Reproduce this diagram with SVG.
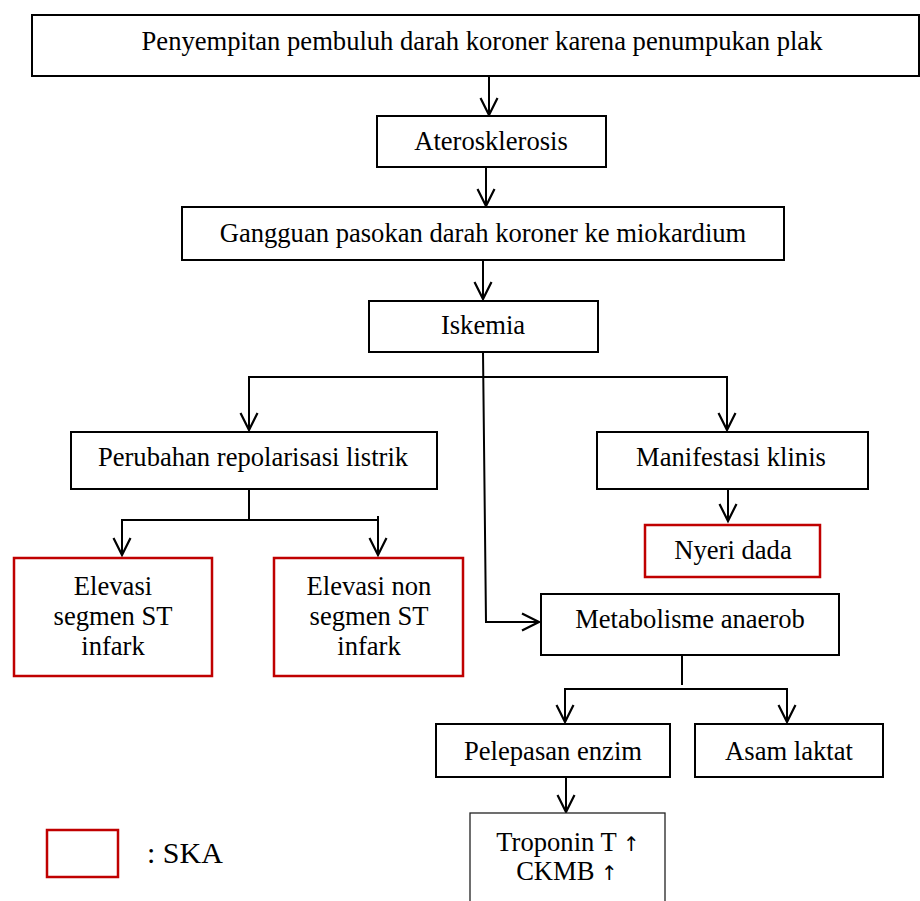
<svg xmlns="http://www.w3.org/2000/svg" width="920" height="901" viewBox="0 0 920 901">
  <style>
    .box { fill: #fff; stroke: #000; stroke-width: 2; }
    .ska { fill: #fff; stroke: #c00000; stroke-width: 2.5; }
    .thin { fill: #fff; stroke: #222; stroke-width: 1.3; }
    .lbl { font-family: "Liberation Serif", "Times New Roman", serif; font-size: 26.6px; fill: #000; text-anchor: middle; }
    .up { font-family: "DejaVu Sans", sans-serif; font-size: 20px; }
    .conn { fill: none; stroke: #000; stroke-width: 2; }
  </style>
  <defs>
    <marker id="arrow" markerUnits="userSpaceOnUse" markerWidth="24" markerHeight="24" viewBox="-20 -12 24 24" refX="0" refY="0" orient="auto">
      <path d="M -17 -8.5 L 0 0 L -17 8.5" fill="none" stroke="#000" stroke-width="2.2"/>
    </marker>
  </defs>

  <rect width="920" height="901" fill="#fff"/>

  <!-- connectors -->
  <g id="connectors">
    <line class="conn" x1="489" y1="76" x2="489" y2="115" marker-end="url(#arrow)"/>
    <line class="conn" x1="486" y1="167" x2="486" y2="206" marker-end="url(#arrow)"/>
    <line class="conn" x1="483" y1="260" x2="483" y2="299" marker-end="url(#arrow)"/>
    <!-- Iskemia fan-out -->
    <polyline class="conn" points="249,428 249,377 727,377 727,430" marker-end="url(#arrow)"/>
    <line class="conn" x1="249" y1="380" x2="249" y2="430" marker-end="url(#arrow)"/>
    <polyline class="conn" points="483,352 486,622 539,622" marker-end="url(#arrow)"/>
    <!-- Manifestasi -> Nyeri -->
    <line class="conn" x1="728" y1="489" x2="728" y2="521" marker-end="url(#arrow)"/>
    <!-- Perubahan split -->
    <polyline class="conn" points="249,489 249,520 122,520 122,555" marker-end="url(#arrow)"/>
    <line class="conn" x1="249" y1="520" x2="378" y2="520"/>
    <line class="conn" x1="378" y1="516" x2="378" y2="555" marker-end="url(#arrow)"/>
    <!-- Metabolisme split -->
    <line class="conn" x1="682" y1="654" x2="682" y2="685"/>
    <polyline class="conn" points="565,722 565,689 787,689" />
    <line class="conn" x1="565" y1="689" x2="565" y2="722" marker-end="url(#arrow)"/>
    <line class="conn" x1="787" y1="688" x2="787" y2="722" marker-end="url(#arrow)"/>
    <!-- Pelepasan -> Troponin -->
    <line class="conn" x1="566" y1="777" x2="566" y2="812" marker-end="url(#arrow)"/>
  </g>

  <g id="penyempitan">
    <rect class="box" x="32" y="15" width="887" height="61"/>
    <text class="lbl" x="482" y="50" font-size="27.1">Penyempitan pembuluh darah koroner karena penumpukan plak</text>
  </g>

  <g id="aterosklerosis">
    <rect class="box" x="377" y="116" width="229" height="51"/>
    <text class="lbl" x="491" y="150">Aterosklerosis</text>
  </g>

  <g id="gangguan">
    <rect class="box" x="182" y="207" width="602" height="53"/>
    <text class="lbl" x="483" y="242">Gangguan pasokan darah koroner ke miokardium</text>
  </g>

  <g id="iskemia">
    <rect class="box" x="369" y="301" width="229" height="51"/>
    <text class="lbl" x="483" y="334">Iskemia</text>
  </g>

  <g id="perubahan">
    <rect class="box" x="71" y="432" width="366" height="57"/>
    <text class="lbl" x="253" y="466">Perubahan repolarisasi listrik</text>
  </g>

  <g id="manifestasi">
    <rect class="box" x="597" y="432" width="271" height="57"/>
    <text class="lbl" x="731" y="466">Manifestasi klinis</text>
  </g>

  <g id="nyeri-dada">
    <rect class="ska" x="645" y="525" width="175" height="52"/>
    <text class="lbl" x="733" y="559">Nyeri dada</text>
  </g>

  <g id="elevasi-st">
    <rect class="ska" x="14" y="558" width="198" height="118"/>
    <text class="lbl" x="113" y="595">Elevasi</text>
    <text class="lbl" x="113" y="625">segmen ST</text>
    <text class="lbl" x="113" y="655">infark</text>
  </g>

  <g id="elevasi-non-st">
    <rect class="ska" x="274" y="558" width="189" height="118"/>
    <text class="lbl" x="369" y="595">Elevasi non</text>
    <text class="lbl" x="369" y="625">segmen ST</text>
    <text class="lbl" x="369" y="655">infark</text>
  </g>

  <g id="metabolisme">
    <rect class="box" x="541" y="594" width="298" height="61"/>
    <text class="lbl" x="690" y="628">Metabolisme anaerob</text>
  </g>

  <g id="pelepasan">
    <rect class="box" x="436" y="724" width="234" height="53"/>
    <text class="lbl" x="553" y="760">Pelepasan enzim</text>
  </g>

  <g id="asam-laktat">
    <rect class="box" x="695" y="724" width="188" height="53"/>
    <text class="lbl" x="789" y="760">Asam laktat</text>
  </g>

  <g id="troponin">
    <rect class="thin" x="470" y="813" width="195" height="100"/>
    <text class="lbl" x="568" y="851" font-size="23">Troponin T <tspan class="up">↑</tspan></text>
    <text class="lbl" x="567" y="880" font-size="23">CKMB <tspan class="up">↑</tspan></text>
  </g>

  <g id="legend">
    <rect class="ska" x="47" y="830" width="71" height="47"/>
    <text x="147" y="863" font-family="'Liberation Serif', 'Times New Roman', serif" font-size="30">: SKA</text>
  </g>
</svg>
